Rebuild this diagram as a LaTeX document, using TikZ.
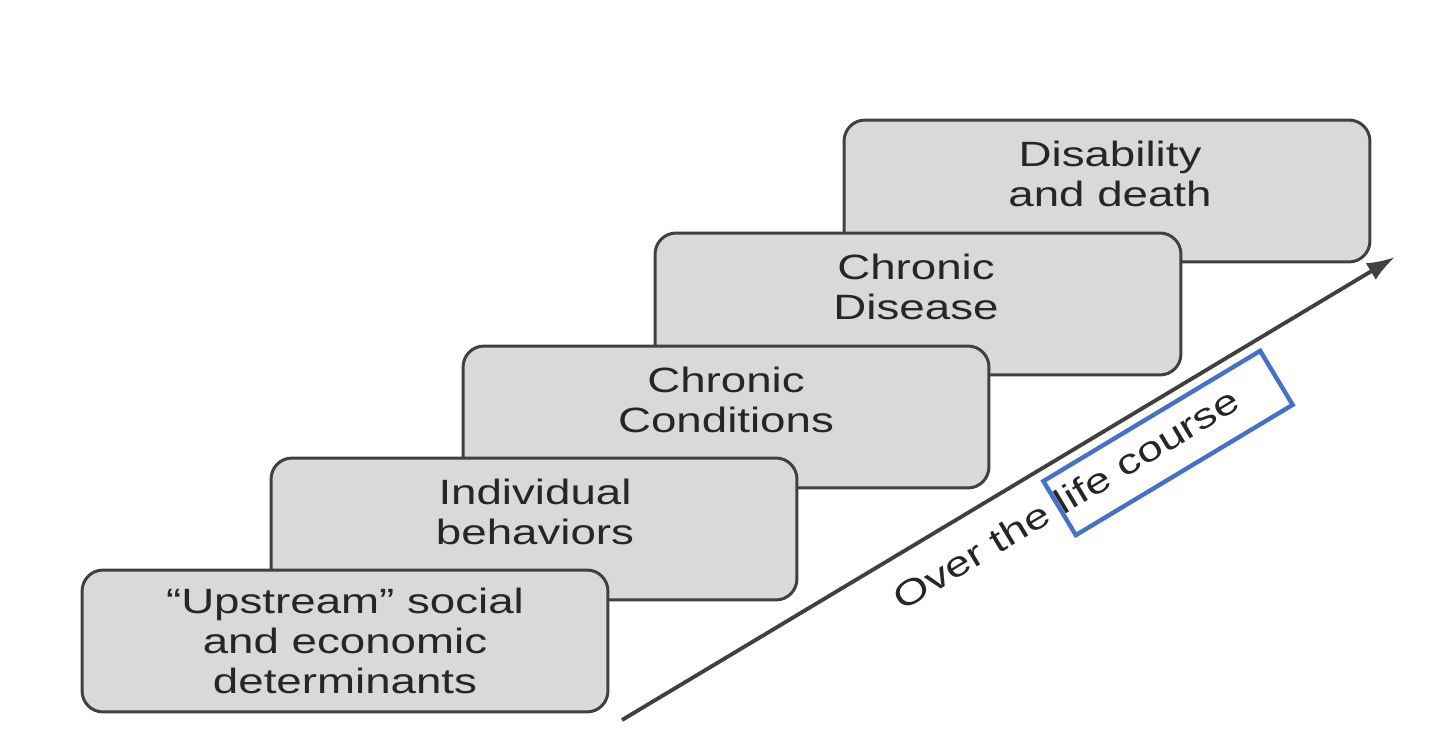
\documentclass[tikz,border=0pt]{standalone}
\usepackage{fontspec}
\usetikzlibrary{arrows.meta}
\setmainfont{Liberation Sans}
\definecolor{hlblue}{HTML}{4472C4}
\begin{document}
\begin{tikzpicture}[x=0.02cm,y=0.02cm,
  stepbox/.style={draw=black!75,line width=1.7pt,fill=black!15,rounded corners=12pt,minimum width=10.52cm,minimum height=2.84cm},
  lbl/.style={align=center,font=\fontsize{20}{23}\selectfont,text=black!85,xscale=1.3}]
\useasboundingbox (0,0) rectangle (1440,748);
\node[stepbox] (b5) at (1107,557) {};
\node[stepbox] (b4) at (918,444) {};
\node[stepbox] (b3) at (726,331) {};
\node[stepbox] (b2) at (534,219) {};
\node[stepbox] (b1) at (345,107) {};
\node[lbl] (t5) at (1110,574) {Disability\\and death};
\node[lbl] (t4) at (916,461) {Chronic\\Disease};
\node[lbl] (t3) at (726,348) {Chronic\\Conditions};
\node[lbl] (t2) at (535,236) {Individual\\behaviors};
\node[lbl] (t1) at (345,107) {``Upstream'' social\\and economic\\determinants};
\coordinate (s) at (622,28);
\coordinate (e) at (1395,491);
\draw[black!75,line width=2.2pt,-{Latex[length=16pt,width=11pt]}] (s) -- (e);
\node[rotate=31,font=\fontsize{20}{23}\selectfont,text=black!85] (ot) at (1066,249) {\scalebox{1.3}[1]{Over the life course}};
\node[draw=hlblue,line width=2.5pt,rotate=31,minimum width=5.06cm,minimum height=1.26cm] (hl) at (1168,305) {};
\end{tikzpicture}
\end{document}
